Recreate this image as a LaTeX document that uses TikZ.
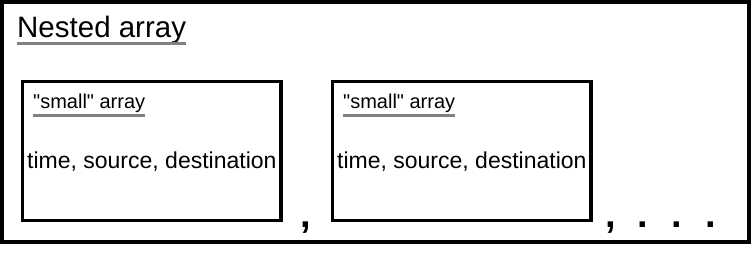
\documentclass[tikz,border=0pt]{standalone}
\usepackage{fontspec}
\setmainfont{Liberation Sans}[Ligatures=TeXOff]
\usepackage{xcolor}
\usepackage{tikz}
\usetikzlibrary{positioning}
\definecolor{uGray}{HTML}{808080}
\definecolor{bInk}{HTML}{000000}

\begin{document}
\begin{tikzpicture}[x=1pt, y=-1pt,
          outer/.style={draw=bInk, line width=3.5pt},
          arrbox/.style={draw=bInk, line width=3.5pt, minimum width=258.5pt,
            minimum height=139pt, inner sep=0pt},
          lbl/.style={anchor=base west, inner sep=0pt, text=bInk},
          uline/.style={draw=uGray, line width=3pt},
          punct/.style={anchor=base, inner sep=0pt, font=\fontsize{38}{38}\selectfont\bfseries}]
        \useasboundingbox (0,0) rectangle (753,252);
        \draw[outer] (1.75,1.75) rectangle (749,242);
        % title of the outer array
        \node[lbl, font=\fontsize{29.5}{30}\selectfont] (nested) at (17,37) {Nested array};
        \draw[uline] ([yshift=-6.5pt]nested.base west) -- ([yshift=-6.5pt]nested.base east);
        % the two inner arrays
        \node[arrbox] (arr1) at (151.75,151) {};
        \node[arrbox] (arr2) at (461.75,151) {};
        \node[lbl, font=\fontsize{20}{20}\selectfont] (small1) at (33,108) {"small" array};
        \node[lbl, font=\fontsize{20}{20}\selectfont] (small2) at (343,108) {"small" array};
        \draw[uline] ([yshift=-7.5pt]small1.base west) -- ([yshift=-7.5pt]small1.base east);
        \draw[uline] ([yshift=-7.5pt]small2.base west) -- ([yshift=-7.5pt]small2.base east);
        \node[lbl, font=\fontsize{23}{23}\selectfont] (fld1) at (27,168) {time, source, destination};
        \node[lbl, font=\fontsize{23}{23}\selectfont] (fld2) at (337,168) {time, source, destination};
        % separators and ellipsis
        \node[punct] (sep1) at (306,227) {,};
        \node[punct] (sep2) at (611,227) {,};
        \foreach \x/\n in {642.5/1, 676.5/2, 710.5/3}
          \node[punct] (dot\n) at (\x,227) {.};
      \end{tikzpicture}
\end{document}
